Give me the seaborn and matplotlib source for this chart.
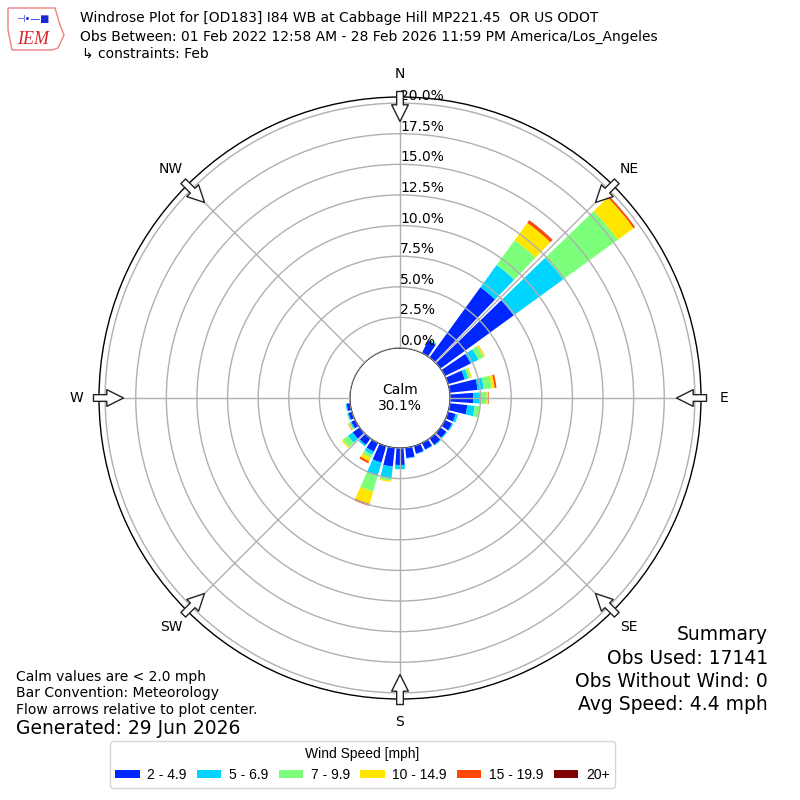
import numpy as np
import pandas as pd
import matplotlib
matplotlib.use("Agg")
import matplotlib.pyplot as plt
import seaborn as sns
from matplotlib.patches import Circle, Patch, Polygon

# ==================================================
# DATA  (percent of observations per 10 degree sector)
# ==================================================

directions = np.arange(0, 360, 10)

speed_bins = ["2 - 4.9", "5 - 6.9", "7 - 9.9", "10 - 14.9", "15 - 19.9", "20+"]
bin_colors = ["#0026ff", "#00d5ff", "#7cff7a", "#ffe500", "#ff4800", "#7f0000"]

#            0    10   20   30    40    50    60    70    80    90
pct_2_5 = [0.0, 0.0, 0.0, 1.15, 7.10, 7.40, 2.35, 1.42, 2.29, 1.90,
           1.45, 0.65, 0.65, 0.60, 0.65, 0.60, 0.65, 0.85, 1.39, 1.55,
           1.41, 0.80, 0.65, 0.70, 0.35, 0.30, 0.30, 0.05, 0.0, 0.0,
           0.0, 0.0, 0.0, 0.0, 0.0, 0.0]
pct_5_7 = [0.0, 0.0, 0.0, 0.10, 2.25, 5.00, 0.70, 0.30, 0.50, 0.55,
           0.60, 0.20, 0.10, 0.08, 0.08, 0.05, 0.05, 0.05, 0.33, 0.95,
           1.15, 0.28, 0.15, 0.48, 0.12, 0.10, 0.08, 0.0, 0.0, 0.0,
           0.0, 0.0, 0.0, 0.0, 0.0, 0.0]
pct_7_10 = [0.0, 0.0, 0.0, 0.05, 2.50, 5.50, 0.45, 0.20, 0.65, 0.55,
            0.40, 0.03, 0.0, 0.0, 0.0, 0.0, 0.0, 0.0, 0.04, 0.21,
            1.31, 0.30, 0.0, 0.51, 0.08, 0.05, 0.02, 0.0, 0.0, 0.0,
            0.0, 0.0, 0.0, 0.0, 0.0, 0.0]
pct_10_15 = [0.0, 0.0, 0.0, 0.0, 1.75, 1.60, 0.12, 0.10, 0.25, 0.13,
             0.05, 0.0, 0.0, 0.0, 0.0, 0.0, 0.0, 0.0, 0.0, 0.10,
             1.04, 0.30, 0.0, 0.11, 0.08, 0.0, 0.0, 0.0, 0.0, 0.0,
             0.0, 0.0, 0.0, 0.0, 0.0, 0.0]
pct_15_20 = [0.0, 0.0, 0.0, 0.0, 0.25, 0.15, 0.02, 0.0, 0.15, 0.05,
             0.0, 0.0, 0.0, 0.0, 0.0, 0.0, 0.0, 0.0, 0.0, 0.0,
             0.17, 0.17, 0.0, 0.0, 0.03, 0.0, 0.0, 0.0, 0.0, 0.0,
             0.0, 0.0, 0.0, 0.0, 0.0, 0.0]
pct_20_up = [0.0, 0.0, 0.0, 0.0, 0.02, 0.01, 0.0, 0.0, 0.0, 0.0,
             0.0, 0.0, 0.0, 0.0, 0.0, 0.0, 0.0, 0.0, 0.0, 0.0,
             0.0, 0.0, 0.0, 0.0, 0.0, 0.0, 0.0, 0.0, 0.0, 0.0,
             0.0, 0.0, 0.0, 0.0, 0.0, 0.0]

calm_pct = 30.1
ring_ticks = np.arange(0, 20.01, 2.5)
compass = ["N", "NE", "E", "SE", "S", "SW", "W", "NW"]

df = pd.DataFrame({
    "dir": directions,
    speed_bins[0]: pct_2_5,
    speed_bins[1]: pct_5_7,
    speed_bins[2]: pct_7_10,
    speed_bins[3]: pct_10_15,
    speed_bins[4]: pct_15_20,
    speed_bins[5]: pct_20_up,
})

# ==================================================
# STYLE
# ==================================================

sns.set_style("white")
plt.rcParams["font.family"] = ["DejaVu Sans"]
plt.rcParams["text.color"] = "black"
palette = sns.color_palette(bin_colors)

fig = plt.figure(figsize=(8, 8), dpi=100)
ax = fig.add_axes([99 / 800, 101 / 800, 602 / 800, 602 / 800], projection="polar")

ax.set_theta_zero_location("N")
ax.set_theta_direction(-1)
ax.set_ylim(0, 20.5)
ax.set_rorigin(-4.08)
ax.set_axisbelow(False)

# ==================================================
# STACKED BARS
# ==================================================

theta = np.radians(df["dir"])
bottom = np.zeros(len(df))
for name, col in zip(speed_bins, palette):
    ax.bar(theta, df[name], width=np.radians(8), bottom=bottom,
           color=col, edgecolor="none", zorder=1)
    bottom = bottom + df[name].values

# ==================================================
# GRID / LABELS
# ==================================================

ax.set_xticks(np.radians(np.arange(0, 360, 45)))
ax.set_xticklabels([])
ax.set_yticks(ring_ticks)
ax.set_yticklabels([])
ax.grid(True, color="#b0b0b0", lw=1)
ax.spines["polar"].set_color("black")
ax.spines["polar"].set_linewidth(1)

for r in ring_ticks:
    ax.text(0, r, f"{r:.1f}%", ha="left", va="bottom", fontsize=10,
            color="black", zorder=5)

for i, lab in enumerate(compass):
    th = np.radians(i * 45)
    ax.text(th, 22.35, lab, ha="center", va="center", fontsize=10,
            color="black", clip_on=False)
    ax.annotate("", xy=(th, 18.5), xytext=(th, 20.95),
                arrowprops=dict(
                    arrowstyle="simple,head_length=1.2,head_width=1.2,tail_width=0.48",
                    fc="white", ec="#222222", lw=1,
                    shrinkA=0, shrinkB=0, mutation_scale=10),
                annotation_clip=False, zorder=6)

calm = Circle((0.5, 0.5), 49 / 602, transform=ax.transAxes,
              facecolor="white", edgecolor="black", lw=1, zorder=4)
ax.add_patch(calm)
ax.text(0.5, 0.5, f"Calm\n{calm_pct:.1f}%", transform=ax.transAxes,
        ha="center", va="center", fontsize=10, color="black", zorder=5)

# ==================================================
# TITLE + LOGO
# ==================================================

fig.text(0.1, 1 - 18 / 800,
         "Windrose Plot for [OD183] I84 WB at Cabbage Hill MP221.45  OR US ODOT",
         fontsize=10, va="center")
fig.text(0.1, 1 - 37 / 800,
         "Obs Between: 01 Feb 2022 12:58 AM - 28 Feb 2026 11:59 PM America/Los_Angeles",
         fontsize=10, va="center")
fig.text(0.102, 1 - 54 / 800, "\u21b3 constraints: Feb", fontsize=10, va="center")

logo = Polygon([(8 / 800, 1 - 8 / 800), (55 / 800, 1 - 8 / 800),
                (60 / 800, 1 - 25 / 800), (64 / 800, 1 - 35 / 800),
                (58 / 800, 1 - 48 / 800), (52 / 800, 1 - 50 / 800),
                (12 / 800, 1 - 50 / 800), (8 / 800, 1 - 30 / 800)],
               closed=True, transform=fig.transFigure,
               facecolor="none", edgecolor="#f08080", lw=1)
fig.patches.append(logo)
fig.text(33 / 800, 1 - 39 / 800, "IEM", color="#d62828", fontsize=13,
         family="Liberation Serif", style="italic", ha="center", va="center")
fig.text(33 / 800, 1 - 19 / 800, "\u22a3\u2022\u2014\u25a0", color="#1a2bd6",
         fontsize=7, ha="center", va="center")

# ==================================================
# FOOTER TEXT
# ==================================================

fig.text(16 / 800, 1 - 677 / 800, "Calm values are < 2.0 mph", fontsize=10, va="center")
fig.text(16 / 800, 1 - 693 / 800, "Bar Convention: Meteorology", fontsize=10, va="center")
fig.text(16 / 800, 1 - 710 / 800, "Flow arrows relative to plot center.", fontsize=10, va="center")
fig.text(16 / 800, 1 - 729 / 800, "Generated: 29 Jun 2026", fontsize=13.5, va="center")

summary = ["Summary", "Obs Used: 17141", "Obs Without Wind: 0", "Avg Speed: 4.4 mph"]
for k, line in enumerate(summary):
    fig.text(768 / 800, 1 - (635 + 23.3 * k) / 800, line, fontsize=13.5,
             ha="right", va="center")

# ==================================================
# LEGEND
# ==================================================

handles = [Patch(facecolor=c, edgecolor="none") for c in palette]
leg = fig.legend(handles, speed_bins, loc="center", ncol=6,
                 bbox_to_anchor=(0.453, 0.0444),
                 title="Wind Speed [mph]",
                 prop={"family": "Liberation Sans", "size": 10},
                 title_fontproperties={"family": "Liberation Sans", "size": 10},
                 handlelength=1.75, handleheight=0.6, handletextpad=0.55,
                 columnspacing=0.75, frameon=True, fancybox=True)
leg.get_frame().set_edgecolor("#cccccc")
for t in leg.get_texts():
    t.set_color("black")
leg.get_title().set_color("black")

fig.savefig("out.png", dpi=100)
